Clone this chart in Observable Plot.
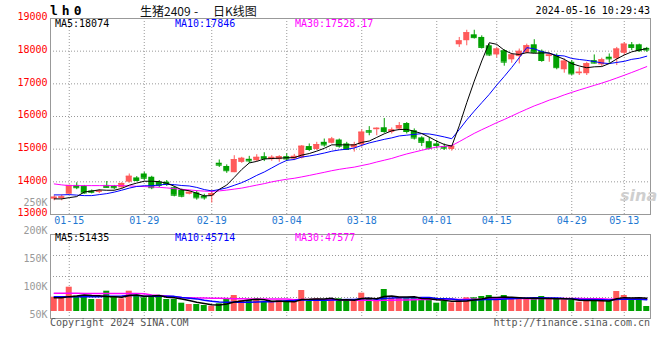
<!DOCTYPE html>
<html><head><meta charset="utf-8">
<script src="https://cdn.jsdelivr.net/npm/d3@7"></script>
<script src="https://cdn.jsdelivr.net/npm/@observablehq/plot@0.6"></script>
<style>
body{margin:0;background:#fff;}
#wrap{position:relative;width:660px;height:360px;overflow:hidden;background:#fff;font-family:"DejaVu Sans Mono",monospace;}
#wrap svg{position:absolute;left:0;top:0;}
.t{position:absolute;white-space:pre;line-height:1;font-size:10px;}
</style></head><body><div id="wrap"></div>
<script>
const dates = ["01-11","01-12","01-15","01-16","01-17","01-18","01-19","01-22","01-23","01-24",
"01-25","01-26","01-29","01-30","01-31","02-01","02-02","02-05","02-06","02-07",
"02-08","02-19","02-20","02-21","02-22","02-23","02-26","02-27","02-28","02-29",
"03-01","03-04","03-05","03-06","03-07","03-08","03-11","03-12","03-13","03-14",
"03-15","03-18","03-19","03-20","03-21","03-22","03-25","03-26","03-27","03-28",
"03-29","04-01","04-02","04-03","04-08","04-09","04-10","04-11","04-12","04-15",
"04-16","04-17","04-18","04-19","04-22","04-23","04-24","04-25","04-26","04-29",
"04-30","05-06","05-07","05-08","05-09","05-10","05-13","05-14","05-15","05-16"];
const open = [13470,13490,13620,13890,13870,13720,13680,13890,13860,13820,
13990,14120,14240,14140,13990,13990,13820,13740,13620,13660,
13560,13570,14570,14470,14280,14595,14690,14645,14770,14680,
14680,14770,14700,14730,15080,14990,15210,15180,15280,15160,
15040,15130,15565,15595,15655,15515,15615,15785,15565,15345,
15230,15160,15080,14990,18195,18320,18500,18420,18165,17885,
18015,17735,17835,17945,18195,17995,17835,17865,17430,17660,
17310,17310,17710,17580,17815,17765,17935,18195,18195,18085];
const high = [13570,13600,13900,13970,13890,13750,13760,14010,13890,13970,
14240,14160,14290,14170,14040,14040,13860,13780,13720,13720,
13620,13740,14670,14520,14800,14750,14780,14830,14890,14800,
14800,14860,14840,15110,15160,15210,15310,15360,15310,15210,
15210,15590,15690,15650,15940,15650,15815,15815,15620,15380,
15360,15260,15160,15110,18420,18640,18640,18470,18215,18115,
18045,17935,18065,18215,18350,18035,17935,17915,17765,17710,
17490,17660,17885,17785,17915,18115,18265,18265,18215,18115];
const low = [13420,13420,13610,13760,13620,13630,13640,13810,13760,13800,
13960,14000,14040,13760,13820,13860,13540,13510,13600,13440,
13440,13350,14440,14260,14280,14565,14560,14620,14620,14630,
14600,14620,14650,14700,14930,14960,15060,15160,15030,14960,
14910,15060,15410,15410,15485,15465,15565,15465,15280,15080,
14980,15010,14960,14940,18115,18165,18370,18065,17835,17795,
17540,17630,17610,17915,17935,17660,17660,17430,17325,17255,
17255,17255,17610,17530,17630,17560,17865,18015,17965,17965];
const close = [13530,13540,13890,13820,13660,13680,13720,13830,13820,13950,
14170,14040,14110,13820,13890,13920,13590,13560,13680,13510,
13510,13640,14510,14340,14680,14720,14640,14750,14710,14750,
14770,14700,14780,15090,14990,15140,15130,15310,15090,14990,
15130,15520,15520,15640,15540,15590,15720,15540,15340,15210,
15030,15110,15030,15090,18315,18565,18415,18115,17885,18065,
17665,17885,17995,18165,17965,17715,17885,17495,17695,17305,
17355,17615,17635,17735,17765,18065,18215,18115,18015,18035];
const ma5 = [13478,13478,13517,13548,13688,13718,13754,13742,13742,13800,
13898,13962,14018,14018,14006,13956,13866,13756,13728,13652,
13570,13580,13770,13902,14136,14378,14578,14626,14700,14714,
14724,14736,14742,14818,14866,14940,15026,15132,15132,15132,
15130,15208,15250,15360,15470,15562,15602,15606,15546,15480,
15368,15246,15144,15094,15715,16422,17083,17700,18259,18209,
18029,17923,17899,17955,17935,17945,17945,17845,17751,17619,
17547,17493,17521,17529,17621,17763,17883,17979,18035,18074];
const ma10 = [13600,13600,13609,13594,13578,13578,13609,13639,13685,13744,
13808,13858,13880,13880,13903,13927,13914,13887,13873,13829,
13763,13723,13763,13815,13894,13974,14079,14198,14301,14425,
14551,14657,14684,14759,14790,14832,14881,14937,14975,14999,
15035,15117,15191,15246,15301,15346,15405,15428,15453,15475,
15465,15424,15375,15320,15598,15895,16165,16422,16677,16962,
17226,17503,17800,18107,18072,17987,17934,17872,17853,17777,
17746,17719,17683,17640,17620,17655,17688,17750,17782,17846];
const ma30 = [13936,13906,13884,13884,13884,13884,13884,13884,13884,13884,
13875,13863,13854,13845,13832,13814,13792,13771,13753,13731,
13716,13710,13722,13747,13777,13808,13854,13900,13945,13999,
14041,14079,14109,14151,14196,14244,14291,14341,14383,14418,
14450,14499,14546,14607,14662,14717,14788,14854,14910,14966,
15017,15066,15083,15108,15230,15358,15484,15596,15702,15812,
15909,16015,16122,16224,16324,16409,16501,16574,16661,16738,
16812,16882,16953,17022,17097,17179,17262,17348,17437,17528];
const volume = [55800,51900,94800,59700,59700,46800,46800,79200,55800,49500,
79200,59700,53400,59700,59700,46800,46800,32400,27300,27300,
23400,20700,30000,46800,62400,42900,42900,42900,36300,36300,
42900,36300,36300,81900,39000,49500,39000,46800,49500,42900,
42900,71400,49500,42900,85800,51900,51900,49500,49500,49500,
46800,32400,39000,33900,45600,53400,53400,58500,62400,45600,
62400,46800,53400,49500,46800,58500,46800,49500,45600,42900,
36300,40200,49500,40200,40200,78000,62400,42900,42900,19500];
const volMa5 = [53400,54000,58000,60000,64400,62600,61600,58400,57700,55600,
62100,64700,59500,60300,62300,55900,53300,49100,42600,36100,
31400,26200,25700,29600,36700,40600,45000,47600,45500,40300,
40300,38900,37600,46700,47300,48600,49100,51200,44800,45500,
44200,50700,51200,49900,58500,60300,56400,56400,57700,50500,
49400,45500,43400,40300,39500,40900,45100,49000,54700,54700,
56500,55100,54100,51500,51800,51000,51000,50200,49400,48700,
44200,42900,42900,41800,41300,49600,54100,52700,53300,51435];
const volMa10 = [58000,58000,58000,58000,58000,58000,58000,59000,59000,60000,
62300,63100,59000,59000,59000,59000,59000,54300,51500,49200,
43700,39800,37400,36100,36400,36000,35600,36700,37600,38500,
40400,42000,42600,46100,43800,44400,44000,44400,45800,46400,
46400,49900,51200,47300,52000,52300,53600,53800,53800,54500,
54900,51000,49900,49000,45000,45200,45300,46200,47500,47100,
48700,50100,51500,53100,53200,53700,53100,52200,50500,50200,
47600,47000,46600,45600,45000,46900,48500,47800,47600,45714];
const volMa30 = [71000,71000,71000,71000,70000,70000,70000,70000,70000,70000,
70000,70000,69000,64000,62000,60000,58000,55000,54000,53000,
53000,52000,52000,51000,50000,50000,49000,49000,49000,49200,
48800,48300,46300,47100,46400,46500,46200,45100,44900,44700,
43500,43900,43800,43200,44100,44200,44400,45000,45700,46500,
47200,47600,47900,47500,46900,47300,47600,48200,49000,49300,
50000,50300,50900,49800,50100,50400,50600,50700,50600,50600,
50400,49300,49300,49300,47700,48600,49000,48700,48500,47577];
const xTickDates = ["01-15","01-29","02-19","03-04","03-18","04-01","04-15","04-29","05-13"];
const priceTicks = [13000,14000,15000,16000,17000,18000,19000];
const volTicks = [50000,100000,150000,200000,250000];
const volTickLabels = ["50K","100K","150K","200K","250K"];
const maNames = ["MA5","MA10","MA30"];
const priceMaLast = ["18074","17846","17528.17"];
const volMaLast = ["51435","45714","47577"];
const titleCode = "lh0";
const titleName = ["生猪2409","-","日K线图"];
const stamp = "2024-05-16 10:29:43";
const copyright = "Copyright 2024 SINA.COM";
const site = "http://finance.sina.com.cn";

const UP = "#ff5a5a", DOWN = "#00a000";
const maColors = ["#000000", "#0000ff", "#ff00ff"];
const MONO = '"DejaVu Sans Mono", monospace';

const rows = dates.map((d, i) => ({
  d, o: open[i], h: high[i], l: low[i], c: close[i], v: volume[i],
  m5: ma5[i], m10: ma10[i], m30: ma30[i],
  vm5: volMa5[i], vm10: volMa10[i], vm30: volMa30[i],
  col: close[i] > open[i] ? UP : DOWN
}));

const wrap = document.getElementById("wrap");
const svgStyle = {background: "transparent", fontFamily: MONO, fontSize: "10px", overflow: "visible"};
const xOpts = {type: "band", domain: dates, paddingInner: 0.2, paddingOuter: 0.1, axis: null, label: null};
const grid = {stroke: "#999", strokeOpacity: 1, strokeDasharray: "1,2"};

const main = Plot.plot({
  width: 660, height: 230, marginLeft: 50, marginRight: 10, marginTop: 18, marginBottom: 16,
  style: svgStyle, x: xOpts, y: {domain: [13000, 19000], axis: null, label: null},
  color: {type: "identity"},
  marks: [
    Plot.gridY(priceTicks.slice(1, -1), grid),
    Plot.gridX(xTickDates, grid),
    Plot.frame({stroke: "#999"}),
    Plot.ruleX(rows, {x: "d", y1: "l", y2: "h", stroke: "col"}),
    Plot.barY(rows, {x: "d", y1: "o", y2: "c", fill: "col"}),
    Plot.tickY(rows, {x: "d", y: "c", stroke: "col"}),
    Plot.lineY(rows, {x: "d", y: "m30", stroke: maColors[2], strokeWidth: 1}),
    Plot.lineY(rows, {x: "d", y: "m10", stroke: maColors[1], strokeWidth: 1}),
    Plot.lineY(rows, {x: "d", y: "m5", stroke: maColors[0], strokeWidth: 1}),
    Plot.axisY(priceTicks, {anchor: "left", tickSize: 0, tickPadding: 3, label: null, tickFormat: d => String(d), color: "#f00", dy: -1.5}),
    Plot.axisX(xTickDates, {anchor: "bottom", tickSize: 0, tickPadding: 2, label: null, color: "#1e78d2"})
  ]
});
wrap.appendChild(main);

const vLo = -27300, vHi = 300300;
const vol = Plot.plot({
  width: 660, height: 360, marginLeft: 50, marginRight: 10, marginTop: 234, marginBottom: 42,
  style: svgStyle, x: xOpts, y: {domain: [vLo, vHi], axis: null, label: null},
  color: {type: "identity"},
  marks: [
    Plot.gridY([1, 2, 3].map(k => vLo + k * (vHi - vLo) / 4), grid),
    Plot.gridX(xTickDates, grid),
    Plot.frame({stroke: "#999"}),
    Plot.barY(rows, {x: "d", y: "v", fill: "col"}),
    Plot.lineY(rows, {x: "d", y: "vm30", stroke: maColors[2]}),
    Plot.lineY(rows, {x: "d", y: "vm10", stroke: maColors[1]}),
    Plot.lineY(rows, {x: "d", y: "vm5", stroke: maColors[0]})
  ]
});
wrap.appendChild(vol);

// label column of the volume panel, as printed by the source chart
const vAxis = Plot.plot({
  width: 660, height: 360, marginLeft: 50, marginRight: 10, marginTop: 0, marginBottom: 0,
  style: svgStyle,
  y: {type: "linear", domain: [50000, 250000], range: [314, 202], axis: null, label: null},
  marks: [
    Plot.axisY(volTicks, {anchor: "left", tickSize: 0, tickPadding: 3, label: null,
      tickFormat: d => volTickLabels[volTicks.indexOf(d)], color: "#999"})
  ]
});
wrap.appendChild(vAxis);

function addText(txt, css) {
  const s = document.createElement("span");
  s.className = "t";
  s.textContent = txt;
  Object.assign(s.style, css);
  wrap.appendChild(s);
  return s;
}
addText(titleCode, {left: "50px", top: "4px", fontSize: "13px", fontWeight: "bold", letterSpacing: "4px", color: "#000"});
const cjk = '"Noto Sans CJK SC", sans-serif';
addText(titleName[0], {left: "140px", top: "5px", fontSize: "12px", fontFamily: cjk, color: "#111"});
addText(titleName[1], {left: "194px", top: "5px", fontSize: "12px", fontFamily: cjk, color: "#111"});
addText(titleName[2], {left: "213px", top: "5px", fontSize: "12px", fontFamily: cjk, color: "#111"});
addText(stamp, {right: "10px", top: "6px", color: "#000"});
maNames.forEach((n, k) => {
  addText(n + ":" + priceMaLast[k], {left: (55 + 120 * k) + "px", top: "19px", color: maColors[k]});
  addText(n + ":" + volMaLast[k], {left: (55 + 120 * k) + "px", top: "233px", color: maColors[k]});
});
addText(copyright, {left: "50px", top: "318px", color: "#555"});
addText(site, {right: "10px", top: "318px", color: "#555"});
addText("sina", {left: "620px", top: "188px", fontSize: "16px", fontStyle: "italic", fontWeight: "bold",
  fontFamily: '"DejaVu Sans", sans-serif', color: "#cfcfcf"});
</script>
</body></html>
